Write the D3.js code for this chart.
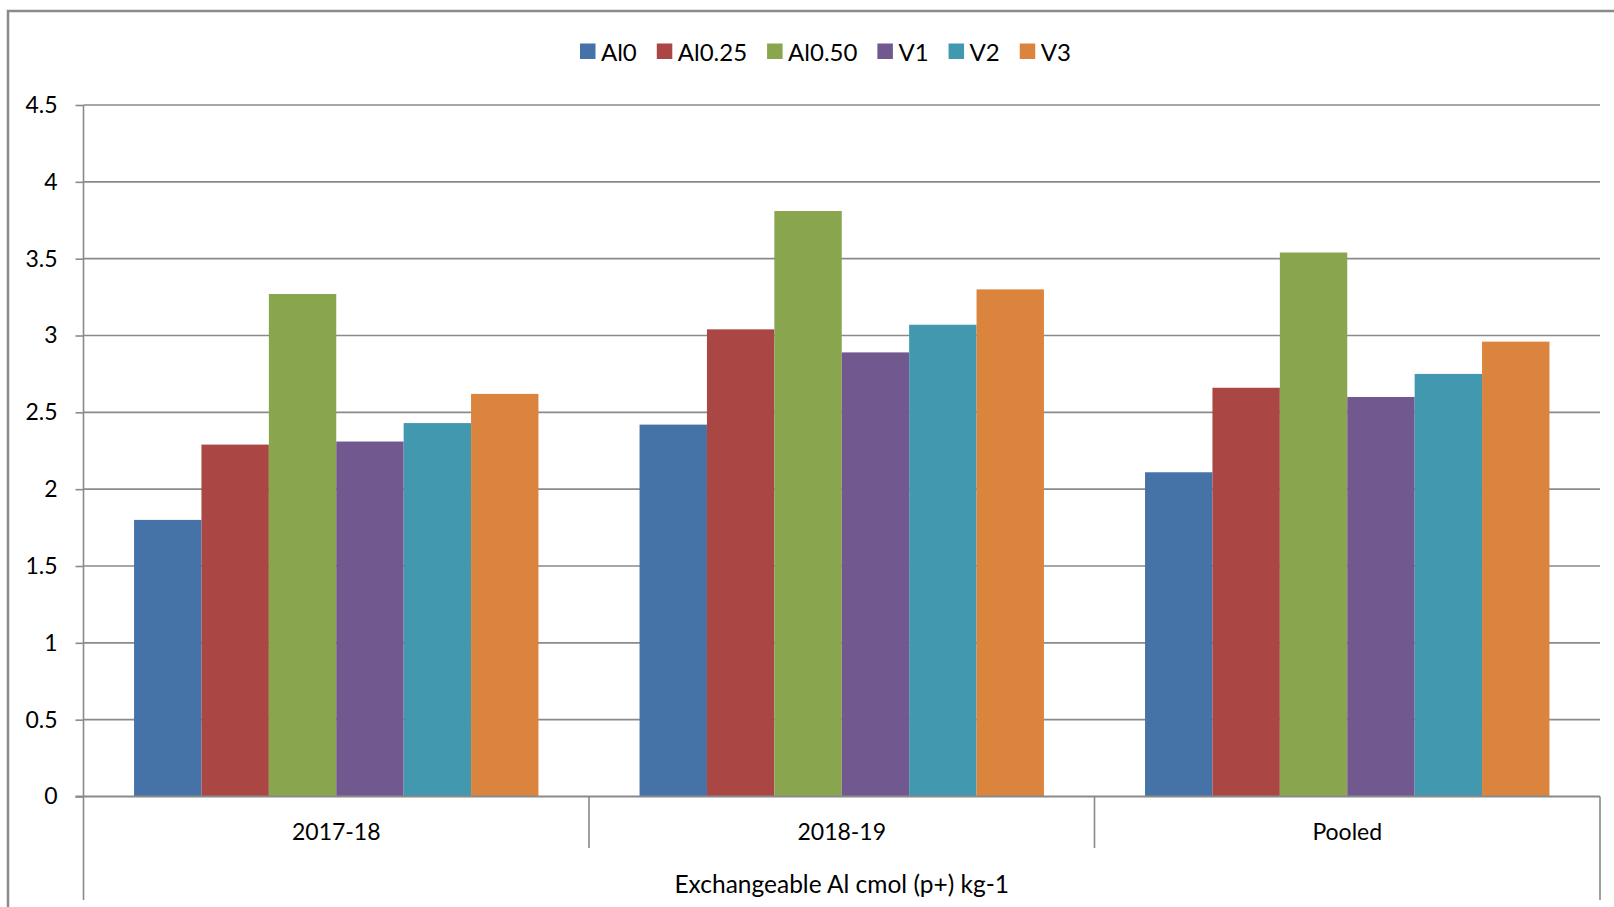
<!DOCTYPE html>
<html>
<head>
<meta charset="utf-8">
<script src="https://cdn.jsdelivr.net/npm/d3@7"></script>
<style>
  html, body { margin: 0; padding: 0; background: #fff; }
  svg { display: block; font-family: Lato, "Open Sans", sans-serif; }
</style>
</head>
<body>
<svg id="chart" width="1614" height="907"></svg>
<script>
// Exchangeable Al by season and treatment
const categories = ["2017-18", "2018-19", "Pooled"];
const seriesNames = ["Al0", "Al0.25", "Al0.50", "V1", "V2", "V3"];
const seriesColors = ["#4572A7", "#AA4643", "#89A54E", "#71588F", "#4198AF", "#DB843D"];
const al0    = [1.80, 2.42, 2.11];
const al025  = [2.29, 3.04, 2.66];
const al050  = [3.27, 3.81, 3.54];
const v1     = [2.31, 2.89, 2.60];
const v2     = [2.43, 3.07, 2.75];
const v3     = [2.62, 3.30, 2.96];
const yTicks = [0, 0.5, 1, 1.5, 2, 2.5, 3, 3.5, 4, 4.5];
const axisTitle = "Exchangeable Al cmol (p+) kg-1";

const seriesValues = [al0, al025, al050, v1, v2, v3];

const svg = d3.select("#chart");
const gridColor = "#8a8a8a";
const tickFont = 23;
const titleFont = 24.5;
const legendFont = 24;

const plotLeft = 83.5, plotRight = 1600, plotTop = 105, plotBottom = 796.5;

// outer frame of the chart area
svg.append("path")
  .attr("d", "M8,907 V11 H1614")
  .attr("fill", "none")
  .attr("stroke", "#8a8a8a")
  .attr("stroke-width", 2.5);

const x0 = d3.scaleBand().domain(categories).range([plotLeft, plotRight]).paddingInner(0).paddingOuter(0);
const x1 = d3.scaleBand().domain(seriesNames).range([0, x0.bandwidth()]).paddingInner(0).paddingOuter(0.75);
const y = d3.scaleLinear().domain([0, 4.5]).range([plotBottom, plotTop]);

// horizontal gridlines
svg.append("g")
  .selectAll("line")
  .data(yTicks.filter(d => d > 0))
  .join("line")
  .attr("x1", plotLeft).attr("x2", plotRight)
  .attr("y1", d => y(d)).attr("y2", d => y(d))
  .attr("stroke", gridColor).attr("stroke-width", 1.6);

// bars
const groups = svg.append("g")
  .selectAll("g")
  .data(categories)
  .join("g")
  .attr("transform", d => `translate(${x0(d)},0)`);

groups.selectAll("rect")
  .data((c, ci) => seriesNames.map((s, si) => ({ s, si, v: seriesValues[si][ci] })))
  .join("rect")
  .attr("x", d => x1(d.s))
  .attr("width", x1.bandwidth())
  .attr("y", d => y(d.v))
  .attr("height", d => y(0) - y(d.v))
  .attr("fill", d => seriesColors[d.si]);

// y axis
const yAxis = d3.axisLeft(y).tickValues(yTicks).tickSize(8).tickSizeOuter(0)
  .tickFormat(d => d3.format("")(d)).tickPadding(18);
const yg = svg.append("g").attr("transform", `translate(${plotLeft},0)`).call(yAxis);
yg.select(".domain").remove();
yg.selectAll(".tick line").attr("stroke", gridColor).attr("stroke-width", 1.6);
yg.selectAll(".tick text")
  .attr("fill", "#000")
  .style("font-size", tickFont + "px")
  .style("font-family", "Lato, 'Open Sans', sans-serif");

// vertical axis line, extended through the category label rows
svg.append("line")
  .attr("x1", plotLeft).attr("x2", plotLeft).attr("y1", plotTop).attr("y2", 900)
  .attr("stroke", gridColor).attr("stroke-width", 1.6);

// baseline
svg.append("line")
  .attr("x1", plotLeft - 8).attr("x2", plotRight).attr("y1", y(0)).attr("y2", y(0))
  .attr("stroke", gridColor).attr("stroke-width", 1.8);

// category separators
svg.append("g")
  .selectAll("line")
  .data(categories.slice(1))
  .join("line")
  .attr("x1", d => x0(d)).attr("x2", d => x0(d))
  .attr("y1", y(0)).attr("y2", 848)
  .attr("stroke", gridColor).attr("stroke-width", 1.6);

svg.append("line")
  .attr("x1", plotRight).attr("x2", plotRight).attr("y1", y(0)).attr("y2", 900)
  .attr("stroke", gridColor).attr("stroke-width", 1.6);

// category labels
svg.append("g")
  .selectAll("text")
  .data(categories)
  .join("text")
  .attr("x", d => x0(d) + x0.bandwidth() / 2)
  .attr("y", 831)
  .attr("text-anchor", "middle")
  .attr("dominant-baseline", "central")
  .style("font-size", tickFont + "px")
  .text(d => d);

// axis title row
svg.append("text")
  .attr("x", (plotLeft + plotRight) / 2)
  .attr("y", 883)
  .attr("text-anchor", "middle")
  .attr("dominant-baseline", "central")
  .style("font-size", titleFont + "px")
  .text(axisTitle);

// legend
const legend = svg.append("g").attr("transform", "translate(580,51)");
let cursor = 0;
seriesNames.forEach((name, i) => {
  const item = legend.append("g").attr("transform", `translate(${cursor},0)`);
  item.append("rect")
    .attr("x", 0).attr("y", -7.5).attr("width", 15.5).attr("height", 15.5)
    .attr("fill", seriesColors[i]);
  const t = item.append("text")
    .attr("x", 21).attr("y", 0)
    .attr("dominant-baseline", "central")
    .style("font-size", legendFont + "px")
    .text(name);
  cursor += 21 + t.node().getComputedTextLength() + 20;
});
</script>
</body>
</html>
